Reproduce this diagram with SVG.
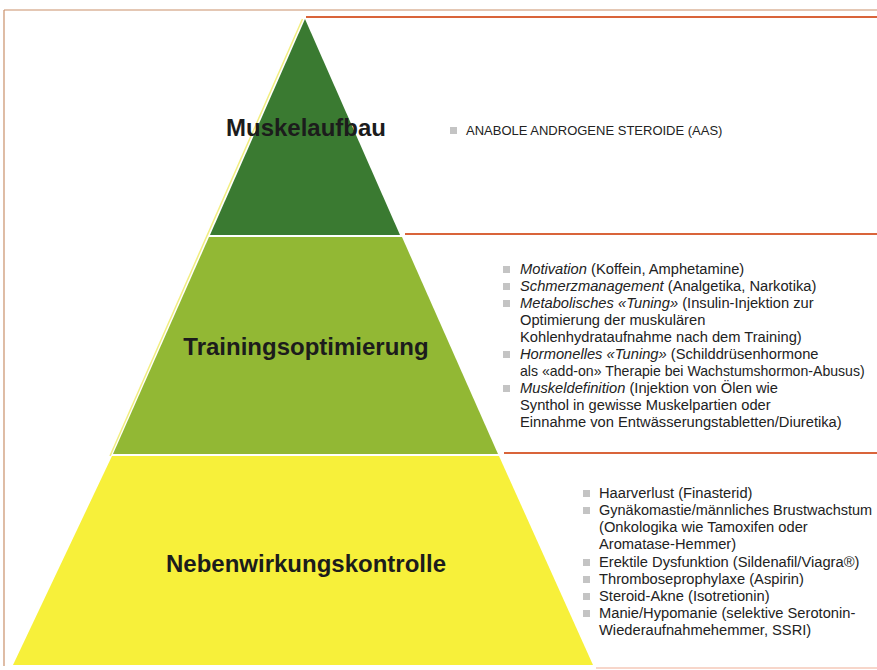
<svg xmlns="http://www.w3.org/2000/svg" width="877" height="670" viewBox="0 0 877 670">
<defs>
<style>
.head{font-family:"Liberation Sans",Arial,sans-serif;font-weight:bold;font-size:24px;fill:#1c1c1c;text-anchor:middle}
.txt{font-family:"Liberation Sans",Arial,sans-serif;font-size:14.7px;fill:#222222}
.caps{font-family:"Liberation Sans",Arial,sans-serif;font-size:13px;fill:#222222}
.it{font-style:italic}
.bul{fill:#c4c4c4}
.sep{stroke:#d9643a;stroke-width:2;fill:none}
.frame{stroke:#c9906a;stroke-width:1.2;fill:none}
</style>
</defs>
<rect width="877" height="670" fill="#ffffff"/>
<g id="connectors">
<line class="frame" x1="4" y1="10" x2="877" y2="10"/>
<line class="frame" x1="4" y1="10" x2="4" y2="666"/>
<line class="sep" x1="306" y1="17" x2="877" y2="17"/>
<line class="sep" x1="405" y1="234" x2="877" y2="234"/>
<line class="sep" x1="504" y1="453" x2="877" y2="453"/>
<line x1="596" y1="668" x2="877" y2="668" stroke="#f5c8b8" stroke-width="1.5"/>
<line x1="302.5" y1="19" x2="110" y2="456" stroke="#f2ee80" stroke-width="1.5"/>
</g>
<g id="muskelaufbau">
<polygon points="305,19 400,235 210,235" fill="#3a7a31"/>
<text class="head" x="306" y="136">Muskelaufbau</text>
<rect class="bul" x="450" y="127" width="7" height="7"/>
<text class="caps" x="466" y="135">ANABOLE ANDROGENE STEROIDE (AAS)</text>
</g>
<g id="trainingsoptimierung">
<polygon points="209,237 402,237 498,454 113,454" fill="#92b834"/>
<text class="head" x="306" y="355">Trainingsoptimierung</text>
<rect class="bul" x="503" y="266" width="7" height="7"/>
<rect class="bul" x="503" y="283" width="7" height="7"/>
<rect class="bul" x="503" y="300" width="7" height="7"/>
<rect class="bul" x="503" y="351" width="7" height="7"/>
<rect class="bul" x="503" y="385" width="7" height="7"/>
<text class="txt" x="520" y="274"><tspan class="it">Motivation</tspan> (Koffein, Amphetamine)</text>
<text class="txt" x="520" y="291"><tspan class="it">Schmerzmanagement</tspan> (Analgetika, Narkotika)</text>
<text class="txt" x="520" y="308"><tspan class="it">Metabolisches «Tuning»</tspan> (Insulin-Injektion zur</text>
<text class="txt" x="520" y="325">Optimierung der muskulären</text>
<text class="txt" x="520" y="342">Kohlenhydrataufnahme nach dem Training)</text>
<text class="txt" x="520" y="359"><tspan class="it">Hormonelles «Tuning»</tspan> (Schilddrüsenhormone</text>
<text class="txt" x="520" y="376" style="font-size:14.1px">als «add-on» Therapie bei Wachstumshormon-Abusus)</text>
<text class="txt" x="520" y="393"><tspan class="it">Muskeldefinition</tspan> (Injektion von Ölen wie</text>
<text class="txt" x="520" y="410">Synthol in gewisse Muskelpartien oder</text>
<text class="txt" x="520" y="427">Einnahme von Entwässerungstabletten/Diuretika)</text>
</g>
<g id="nebenwirkungskontrolle">
<polygon points="112,456 499,456 593,665 13,665" fill="#f7f03a"/>
<text class="head" x="306" y="572">Nebenwirkungskontrolle</text>
<rect class="bul" x="583" y="490" width="7" height="7"/>
<rect class="bul" x="583" y="507" width="7" height="7"/>
<rect class="bul" x="583" y="559" width="7" height="7"/>
<rect class="bul" x="583" y="576" width="7" height="7"/>
<rect class="bul" x="583" y="593" width="7" height="7"/>
<rect class="bul" x="583" y="610" width="7" height="7"/>
<text class="txt" x="599" y="498">Haarverlust (Finasterid)</text>
<text class="txt" x="599" y="515" style="font-size:14.5px">Gynäkomastie/männliches Brustwachstum</text>
<text class="txt" x="599" y="532">(Onkologika wie Tamoxifen oder</text>
<text class="txt" x="599" y="549">Aromatase-Hemmer)</text>
<text class="txt" x="599" y="567">Erektile Dysfunktion (Sildenafil/Viagra®)</text>
<text class="txt" x="599" y="584">Thromboseprophylaxe (Aspirin)</text>
<text class="txt" x="599" y="601">Steroid-Akne (Isotretionin)</text>
<text class="txt" x="599" y="618">Manie/Hypomanie (selektive Serotonin-</text>
<text class="txt" x="599" y="635">Wiederaufnahmehemmer, SSRI)</text>
</g>
</svg>
